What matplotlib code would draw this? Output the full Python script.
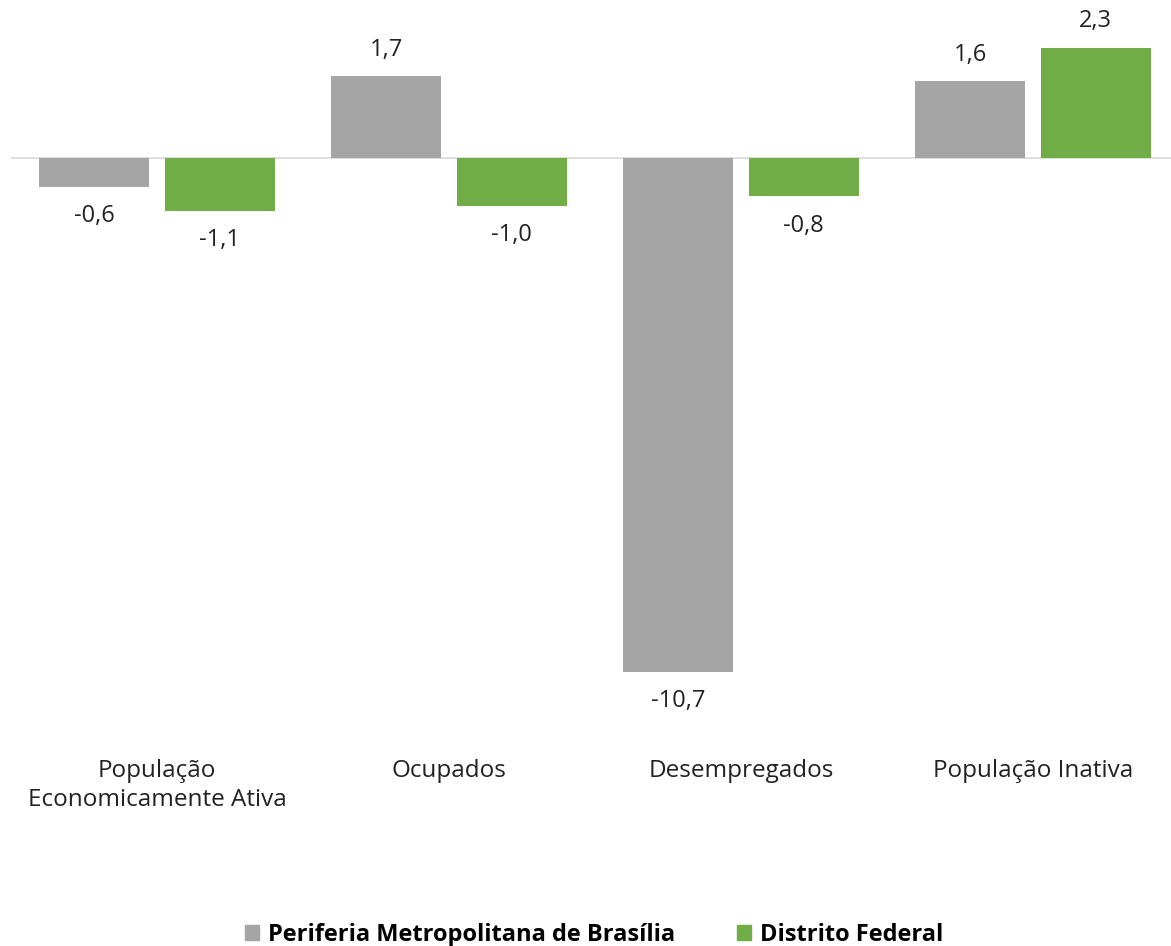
import numpy as np
import matplotlib
matplotlib.use("Agg")
import matplotlib.pyplot as plt
from matplotlib.patches import Patch
from matplotlib.transforms import blended_transform_factory

plt.rcParams['font.family'] = ['Open Sans', 'DejaVu Sans']

categories = ["População\nEconomicamente Ativa", "Ocupados", "Desempregados", "População Inativa"]
series_names = ["Periferia Metropolitana de Brasília", "Distrito Federal"]
periferia = [-0.6, 1.7, -10.7, 1.6]
distrito = [-1.1, -1.0, -0.8, 2.3]
colors = ["#A5A5A5", "#70AD47"]

fig = plt.figure(figsize=(11.71, 9.46), dpi=100)
ax = fig.add_axes([11 / 1171, 1 - 730 / 946, 1168 / 1171, 730 / 946])

x = np.arange(len(categories))
width = 0.377
offsets = [-0.215, 0.215]

for vals, off, col in zip([periferia, distrito], offsets, colors):
    bars = ax.bar(x + off, vals, width, color=col, zorder=2)
    for b, v in zip(bars, vals):
        lbl = ("%.1f" % v).replace(".", ",")
        dy = 19 if v >= 0 else -21
        ax.annotate(lbl, (b.get_x() + b.get_width() / 2, v), xytext=(0, dy),
                    textcoords="offset points", ha="center", va="center",
                    fontsize=17, color="#222222")

ax.axhline(0, color="#D9D9D9", lw=1.2, zorder=1)
ax.set_xlim(-0.5, 3.5)
ax.set_ylim(-(730 - 158) / 48.0, 158 / 48.0)
ax.axis("off")

tr = blended_transform_factory(ax.transData, fig.transFigure)
for xi, cat in zip(x, categories):
    ax.text(xi, 1 - 759 / 946, cat, transform=tr, ha="center", va="top",
            fontsize=17.5, color="#222222", linespacing=1.3)

handles = [Patch(color=c, label=n) for c, n in zip(colors, series_names)]
fig.legend(handles=handles, loc="center", bbox_to_anchor=(594 / 1171, 1 - 935 / 946),
           ncol=2, frameon=False, prop={"weight": "bold", "size": 17},
           handlelength=0.6, handleheight=0.6, handletextpad=0.4, columnspacing=2.6)

plt.savefig("out.png", dpi=100)
